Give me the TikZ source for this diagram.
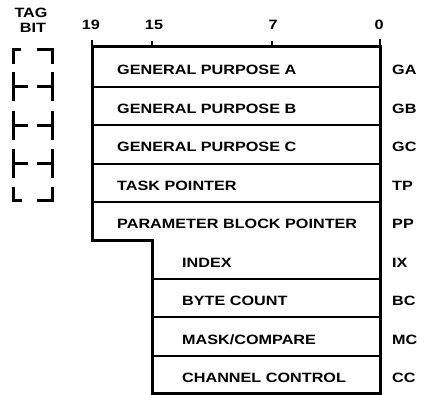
\documentclass[tikz,border=0pt]{standalone}
\usepackage{fontspec}
\setmainfont{Liberation Sans}[FakeStretch=1.2]
\begin{document}
\begin{tikzpicture}[x=1pt,y=-1pt,
  lbl/.style={font=\fontsize{13.5}{13.5}\selectfont\bfseries, inner sep=0pt, anchor=base west},
  num/.style={font=\fontsize{13.5}{13.5}\selectfont\bfseries, inner sep=0pt, anchor=base},
  outline/.style={line width=3pt, line join=miter},
  divider/.style={line width=1.8pt},
  tagline/.style={line width=3pt, line cap=butt}]
\useasboundingbox (0,0) rectangle (425,395);
% outline
\draw[outline] (92,47) -- (380,47) -- (380,393) -- (152,393) -- (152,240) -- (92,240) -- cycle;
% ticks
\draw[line width=2.5pt] (92,40) -- (92,47);
\draw[line width=2.5pt] (380,39) -- (380,47);
\draw[line width=1.5pt] (152,41) -- (152,47);
\draw[line width=1.5pt] (272,41) -- (272,47);
% dividers
\foreach \y in {87,125,164,202} \draw[divider] (92,\y) -- (380,\y);
\foreach \y in {279,317,356} \draw[divider] (152,\y) -- (380,\y);
% bit numbers
\node[num] (b19) at (91,30) {19};
\node[num] (b15) at (154,30) {15};
\node[num] (b7) at (273,30) {7};
\node[num] (b0) at (379,30) {0};
\node[num] (tag) at (31,18) {TAG};
\node[num] (bit) at (33,33) {BIT};
% tag bit bracket column
\draw[tagline] (21,50) -- (13,50) -- (13,64);
\draw[tagline] (37,50) -- (52,50) -- (52,64);
\foreach \y in {87,125.5,164} {
  \draw[tagline] (13,\y-14.5) -- (13,\y+14.5);
  \draw[tagline] (13,\y) -- (28,\y);
  \draw[tagline] (52,\y-14.5) -- (52,\y+14.5);
  \draw[tagline] (37,\y) -- (52,\y);
}
\draw[tagline] (13,187) -- (13,201) -- (22,201);
\draw[tagline] (52,187) -- (52,201) -- (37,201);
% register names
\node[lbl] (ga) at (117,74.5) {GENERAL PURPOSE A};
\node[lbl] (gb) at (117,113.5) {GENERAL PURPOSE B};
\node[lbl] (gc) at (117,152) {GENERAL PURPOSE C};
\node[lbl] (tp) at (117,190.5) {TASK POINTER};
\node[lbl] (pp) at (117,229) {PARAMETER BLOCK POINTER};
\node[lbl] (ix) at (182,267) {INDEX};
\node[lbl] (bc) at (182,305.5) {BYTE COUNT};
\node[lbl] (mc) at (182,344) {MASK/COMPARE};
\node[lbl] (cc) at (182,382.5) {CHANNEL CONTROL};
% abbreviations
\node[lbl] (aga) at (392,74.5) {GA};
\node[lbl] (agb) at (392,113.5) {GB};
\node[lbl] (agc) at (392,152) {GC};
\node[lbl] (atp) at (392,190.5) {TP};
\node[lbl] (app) at (392,229) {PP};
\node[lbl] (aix) at (392,267) {IX};
\node[lbl] (abc) at (392,305.5) {BC};
\node[lbl] (amc) at (392,344) {MC};
\node[lbl] (acc) at (392,382.5) {CC};
\end{tikzpicture}
\end{document}
